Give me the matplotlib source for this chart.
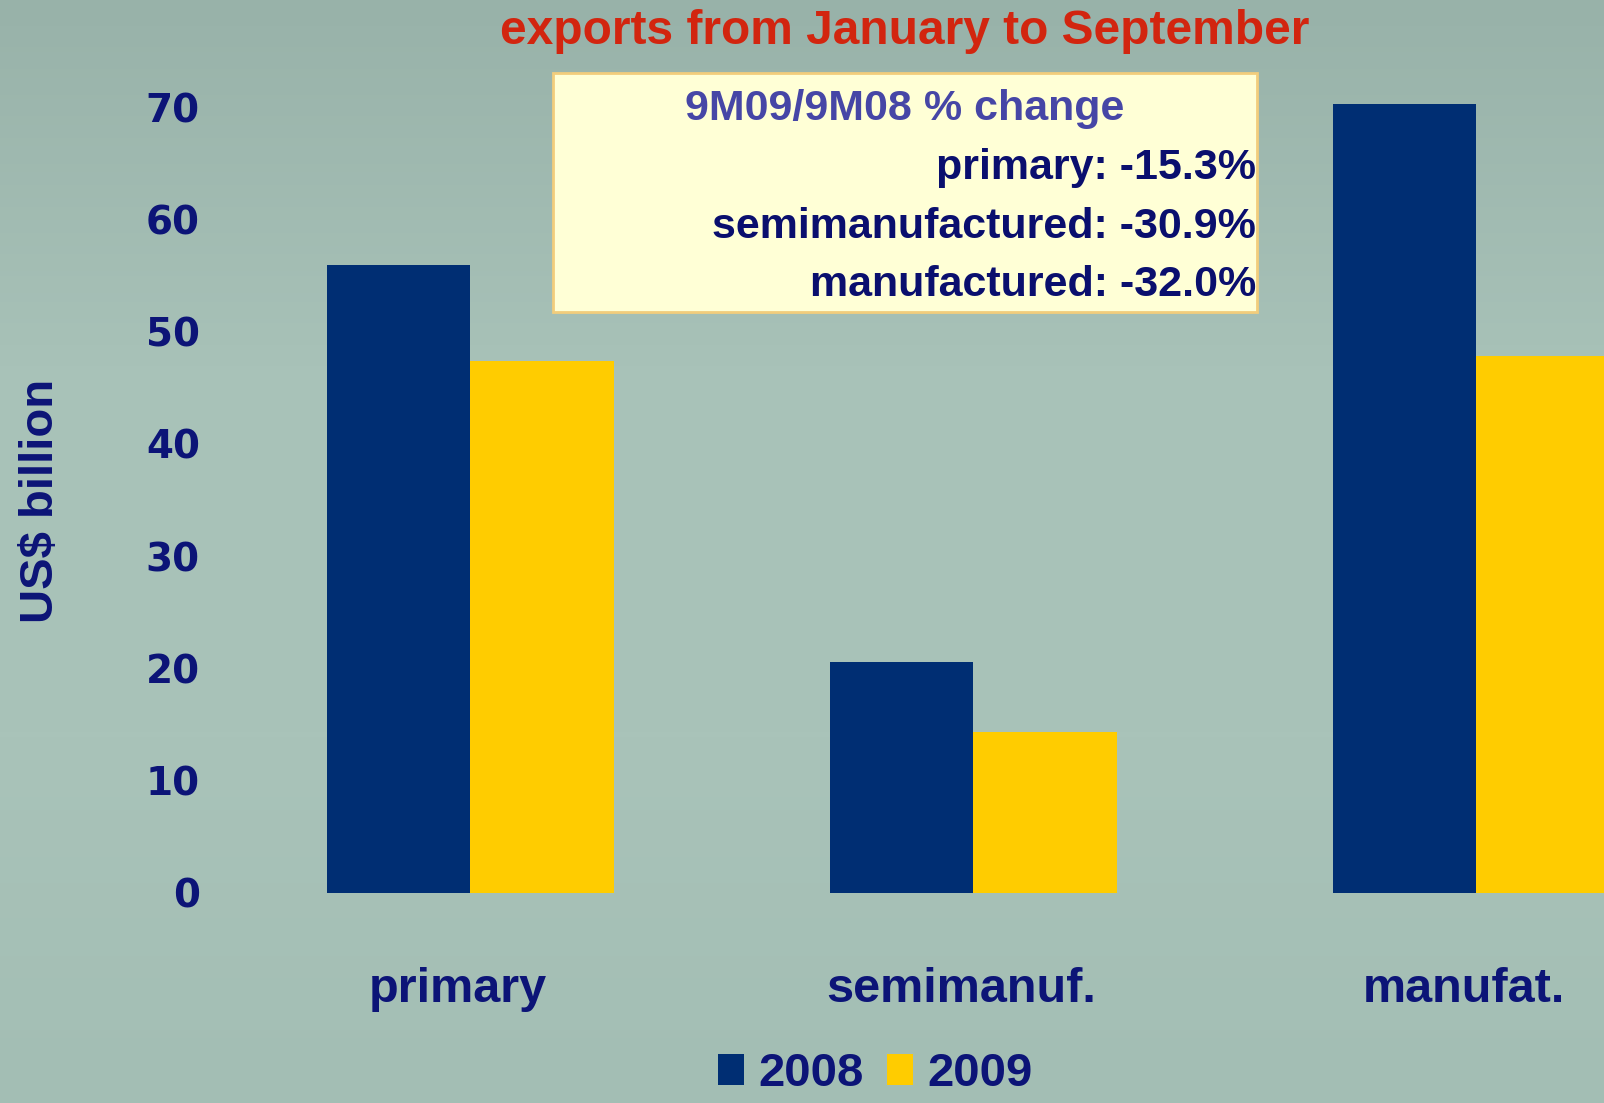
import numpy as np
import matplotlib.pyplot as plt
from matplotlib.patches import Rectangle
from matplotlib.transforms import ScaledTranslation

# exports Jan-Sep, US$ billion
categories = ["primary", "semimanuf.", "manufat."]
exports_2008 = [55.9, 20.6, 70.3]
exports_2009 = [47.4, 14.3, 47.8]
yticks = [0, 10, 20, 30, 40, 50, 60, 70]
change_lines = ["primary: -15.3%", "semimanufactured: -30.9%", "manufactured: -32.0%"]

navy = "#002e73"
gold = "#ffcc00"
text_navy = "#0c1477"
W, H = 1604, 1103

fig = plt.figure(figsize=(W / 100, H / 100), dpi=100)

# background with a slight vertical shading
bg = fig.add_axes([0, 0, 1, 1])
shade = np.linspace(0, 1, 256).reshape(-1, 1)
bg.imshow(shade, aspect="auto", cmap=plt.matplotlib.colors.LinearSegmentedColormap.from_list(
    "bg", ["#98b2a9", "#a8c2b8", "#a9c3b9", "#a3beb4"]), extent=[0, 1, 0, 1])
bg.axis("off")

ax = fig.add_axes([200 / W, (H - 893) / H, 1 - 200 / W, 842 / H])
ax.set_facecolor("none")
x = np.arange(len(categories))
w = 0.285
ax.bar(x - w / 2, exports_2008, w, color=navy, label="2008")
ax.bar(x + w / 2, exports_2009, w, color=gold, label="2009")
ax.set_xlim(-0.537, 2.254)
ax.set_ylim(0, 75)
for s in ax.spines.values():
    s.set_visible(False)
ax.set_yticks(yticks)
ax.set_yticklabels([str(t) for t in yticks], fontsize=28, fontweight="bold",
                   color=text_navy, family="DejaVu Sans")
ax.set_xticks(x)
ax.set_xticklabels(categories, fontsize=35, fontweight="bold", color=text_navy,
                   family="Liberation Sans")
ax.tick_params(axis="y", length=0, pad=0)
ax.tick_params(axis="x", length=0, pad=53)
for lab in ax.get_xticklabels():
    lab.set_transform(lab.get_transform() + ScaledTranslation(-0.12, 0, fig.dpi_scale_trans))

fig.text(41 / W, 1 - 501 / H, "US$ billion", rotation=90, ha="center", va="center",
         fontsize=34, fontweight="bold", color=text_navy, family="Liberation Sans")

fig.text(905 / W, 1 - 31 / H, "exports from January to September", ha="center", va="center",
         fontsize=34.5, fontweight="bold", color="#d2250f", family="Liberation Sans")

# note box
fig.patches.append(Rectangle((553 / W, (H - 312) / H), 704 / W, 239 / H,
                             transform=fig.transFigure, facecolor="#ffffd6",
                             edgecolor="#f2cd7c", lw=2, zorder=3))
fig.text(905 / W, 1 - 109 / H, "9M09/9M08 % change", ha="center", va="center",
         fontsize=31, fontweight="bold", color="#4646a6", family="Liberation Sans", zorder=4)
for line, yy in zip(change_lines, [168, 227, 285]):
    fig.text(1256 / W, 1 - yy / H, line, ha="right", va="center", fontsize=31,
             fontweight="bold", color="#0a0f6e", family="Liberation Sans", zorder=4)

leg = fig.legend(loc="center", bbox_to_anchor=(875 / W, 1 - 1074 / H), ncol=2, frameon=False,
                 prop={"family": "Liberation Sans", "weight": "bold", "size": 34},
                 handlelength=0.55, handleheight=0.64, handletextpad=0.3, columnspacing=0.5,
                 borderpad=0.0)
for t in leg.get_texts():
    t.set_color(text_navy)

fig.savefig("out.png", dpi=100)
